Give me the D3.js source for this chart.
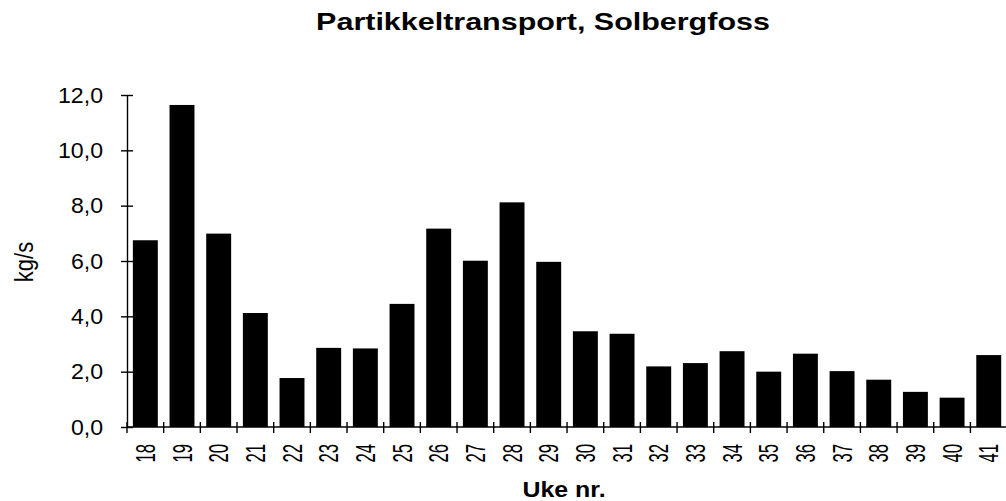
<!DOCTYPE html>
<html>
<head>
<meta charset="utf-8">
<script src="https://cdn.jsdelivr.net/npm/d3@7"></script>
<style>
	body { margin: 0; background: #fff; }
	svg { display: block; font-family: "Liberation Sans", Arial, sans-serif; }
	.axis path, .axis line { stroke: #000; stroke-width: 1.4; }
</style>
</head>
<body>
<div class="chart-container"></div>
<script>
////////////////////////////////////////////////////////////
//// Data //////////////////////////////////////////////////
////////////////////////////////////////////////////////////
const weeks = ["18", "19", "20", "21", "22", "23", "24", "25", "26", "27", "28", "29",
	"30", "31", "32", "33", "34", "35", "36", "37", "38", "39", "40", "41"];
const transport = [6.75, 11.64, 6.99, 4.12, 1.77, 2.86, 2.84, 4.45, 7.17, 6.01, 8.12, 5.97,
	3.46, 3.37, 2.19, 2.31, 2.74, 2.0, 2.65, 2.02, 1.71, 1.27, 1.06, 2.6];
const yTicks = [0, 2, 4, 6, 8, 10, 12];
const title = "Partikkeltransport, Solbergfoss";
const xTitle = "Uke nr.";
const yTitle = "kg/s";

const data = weeks.map((w, i) => ({ week: w, value: transport[i] }));

////////////////////////////////////////////////////////////
//// Setup /////////////////////////////////////////////////
////////////////////////////////////////////////////////////
const width = 1006;
const height = 501;
const axisX = 127;
const axisY = 427;
const topY = 95;
const step = 36.67;

const x = d3
	.scaleBand()
	.domain(weeks)
	.range([axisX, axisX + step * weeks.length])
	.paddingInner(0.32)
	.paddingOuter(0.16);

const y = d3.scaleLinear().domain([0, 12]).range([axisY, topY]);

const fmt = v => d3.format(".1f")(v).replace(".", ",");

const svg = d3
	.select(".chart-container")
	.append("svg")
	.attr("width", width)
	.attr("height", height);

////////////////////////////////////////////////////////////
//// Render ////////////////////////////////////////////////
////////////////////////////////////////////////////////////
// Bars
svg
	.append("g")
	.selectAll("rect")
	.data(data)
	.join("rect")
	.attr("x", d => x(d.week))
	.attr("width", x.bandwidth())
	.attr("y", d => y(d.value))
	.attr("height", d => y(0) - y(d.value))
	.attr("fill", "#000");

// Y axis (ticks cross the line)
const yAxis = svg
	.append("g")
	.attr("class", "axis")
	.attr("transform", `translate(${axisX},0)`)
	.call(d3.axisLeft(y).tickValues(yTicks).tickSize(6).tickSizeOuter(0).tickFormat(""));
yAxis.selectAll(".tick line").attr("x1", 6).attr("x2", -6);

svg
	.append("g")
	.selectAll("text")
	.data(yTicks)
	.join("text")
	.attr("transform", d => `translate(103,${y(d)}) scale(1.08,1)`)
	.attr("text-anchor", "end")
	.attr("dy", "0.36em")
	.attr("font-size", 21.4)
	.text(fmt);

// X axis with ticks at category boundaries
const boundaries = weeks.map(w => x(w) - x.step() * x.paddingInner() / 2 - (w === weeks[0] ? x.step() * (x.paddingOuter() - x.paddingInner() / 2) : 0));
const xAxis = svg.append("g").attr("class", "axis");
xAxis
	.append("line")
	.attr("x1", axisX)
	.attr("x2", width)
	.attr("y1", axisY)
	.attr("y2", axisY);
xAxis
	.selectAll(".xtick")
	.data(boundaries)
	.join("line")
	.attr("class", "xtick")
	.attr("x1", d => d)
	.attr("x2", d => d)
	.attr("y1", axisY - 5)
	.attr("y2", axisY + 6);

svg
	.append("g")
	.selectAll("text")
	.data(weeks)
	.join("text")
	.attr("transform", d => `translate(${x(d) + x.bandwidth() / 2},444) rotate(-90) scale(0.62,1)`)
	.attr("text-anchor", "end")
	.attr("dy", "0.36em")
	.attr("font-size", 27)
	.text(d => d);

// Titles
svg
	.append("text")
	.attr("transform", "translate(543,30) scale(1.27,1)")
	.attr("text-anchor", "middle")
	.attr("font-size", 24)
	.attr("font-weight", "bold")
	.text(title);

svg
	.append("text")
	.attr("transform", "translate(564,497) scale(1.16,1)")
	.attr("text-anchor", "middle")
	.attr("font-size", 21.5)
	.attr("font-weight", "bold")
	.text(xTitle);

svg
	.append("text")
	.attr("transform", "translate(25,262) scale(1.15,1) rotate(-90)")
	.attr("text-anchor", "middle")
	.attr("dy", "0.3em")
	.attr("font-size", 22)
	.text(yTitle);
</script>
</body>
</html>
